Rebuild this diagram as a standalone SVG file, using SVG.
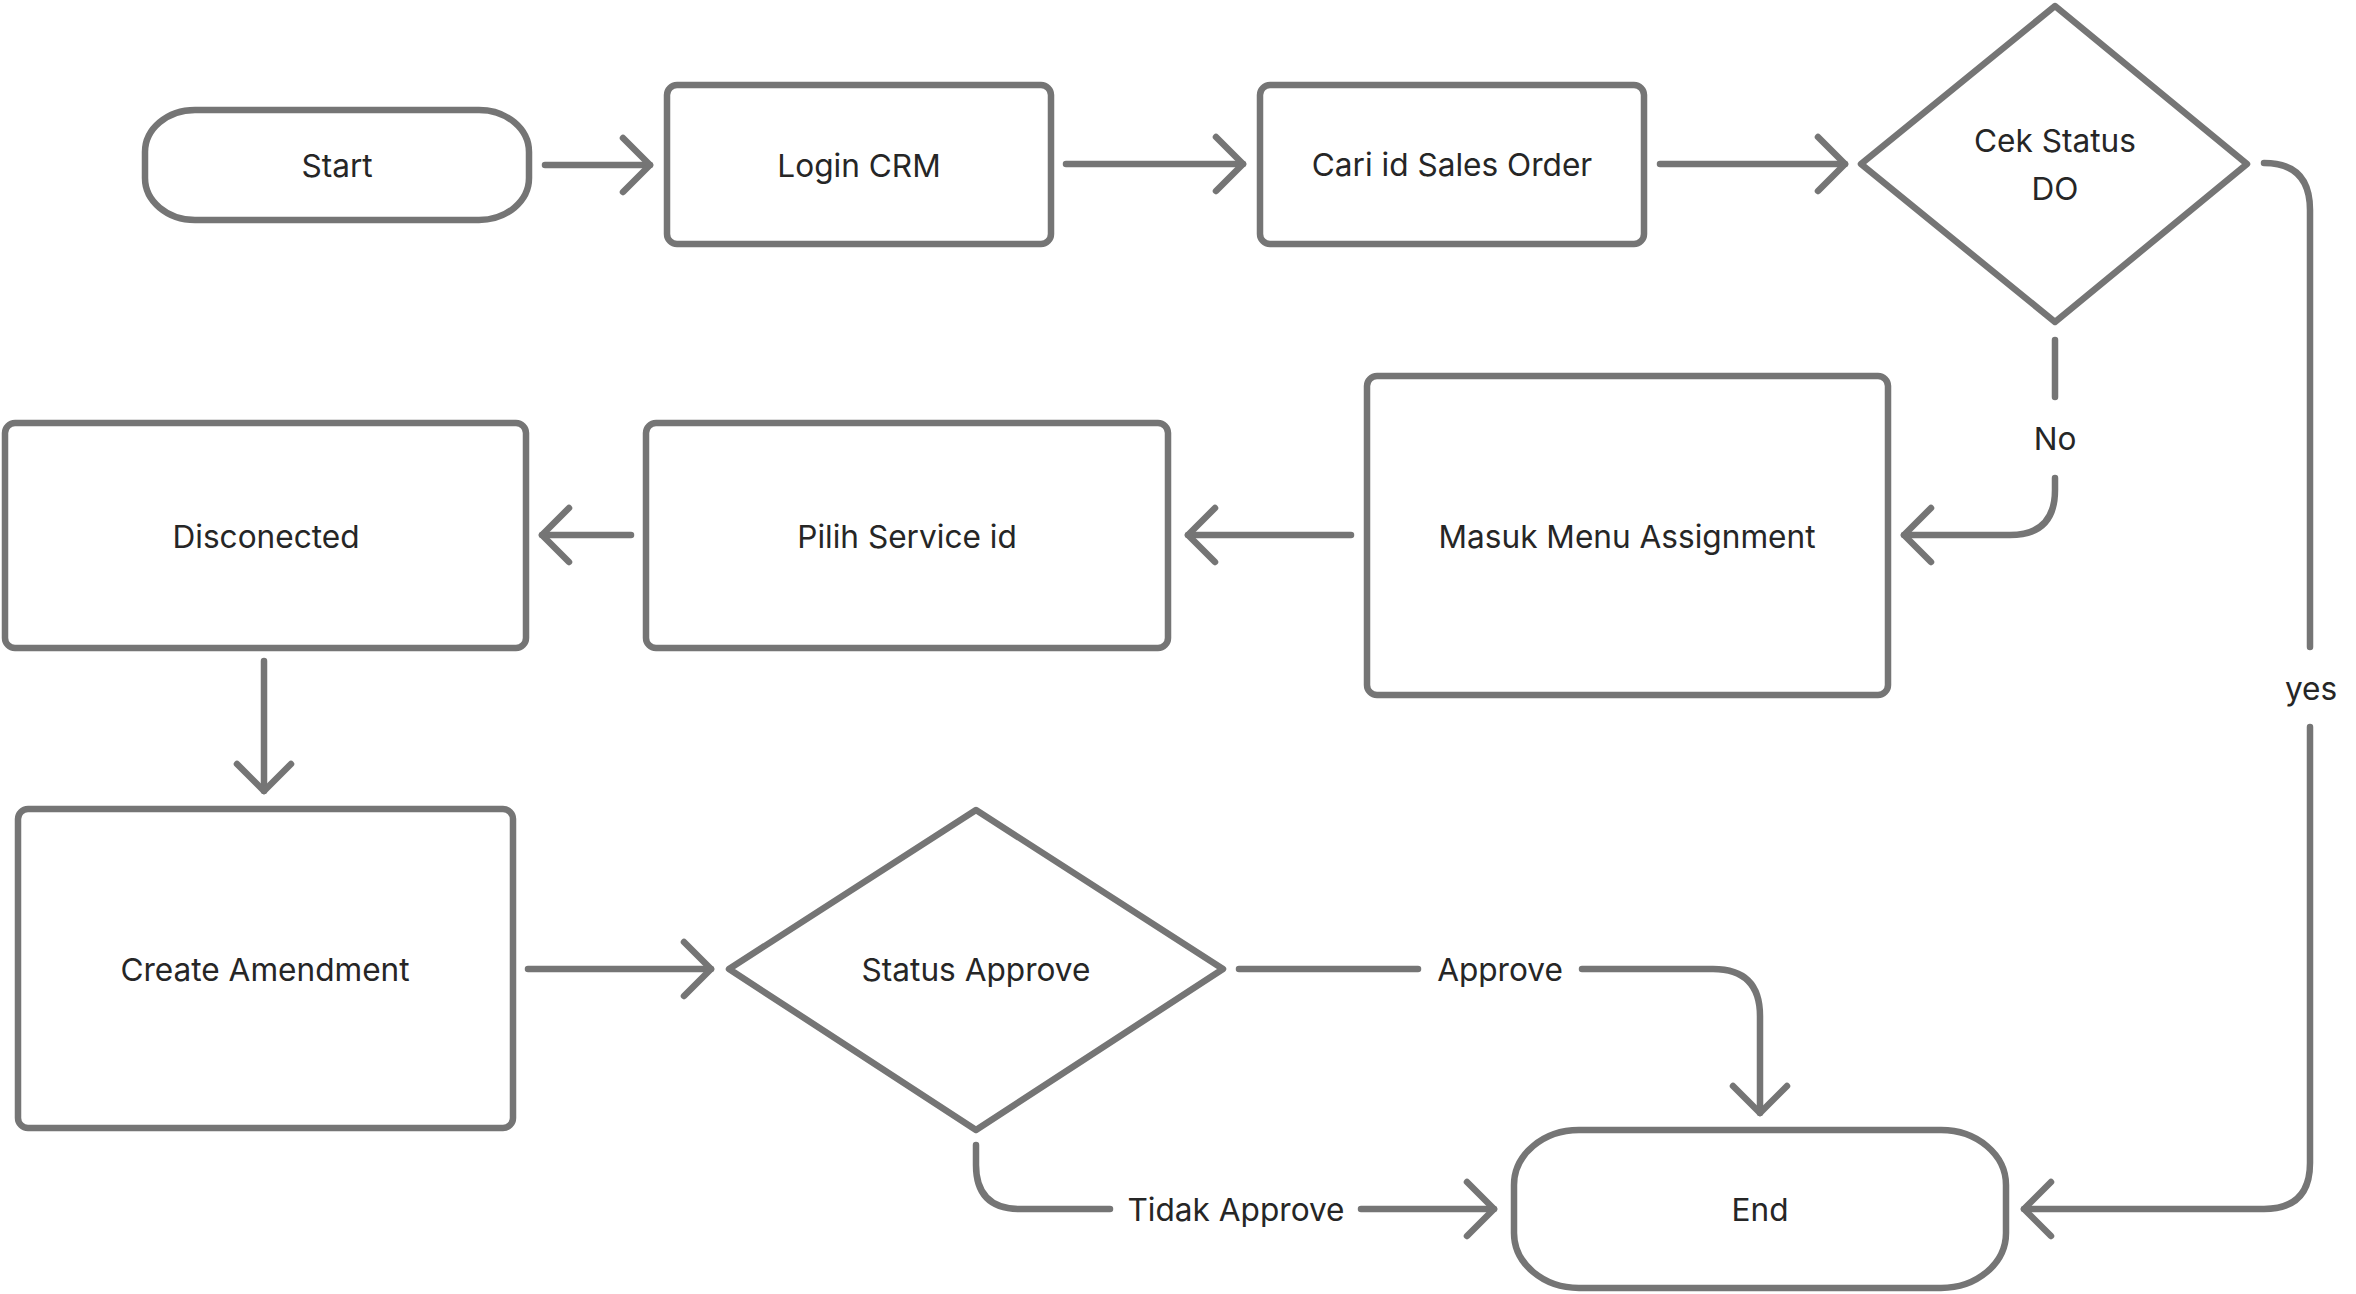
<svg xmlns="http://www.w3.org/2000/svg" width="2356" height="1294" viewBox="0 0 2356 1294">
<style>
.shape{fill:#ffffff;stroke:#757575;stroke-width:6.5;stroke-linejoin:round}
.conn{fill:none;stroke:#757575;stroke-width:6.5;stroke-linecap:round;stroke-linejoin:round}
.lbl{font-family:Inter,"Liberation Sans",sans-serif;font-size:31.6px;fill:#262626;text-anchor:middle;dominant-baseline:central}
</style>
<defs>
<marker id="arr" viewBox="-40 -40 80 80" refX="0" refY="0" markerWidth="80" markerHeight="80" markerUnits="userSpaceOnUse" orient="auto">
<path d="M-27,-27 L0,0 L-27,27" fill="none" stroke="#757575" stroke-width="6.5" stroke-linecap="round" stroke-linejoin="round"/>
</marker>
</defs>
<rect width="2356" height="1294" fill="#ffffff"/>
<g id="connectors">
<path class="conn" d="M545,165 L650,165" marker-end="url(#arr)"/>
<path class="conn" d="M1066,164 L1243,164" marker-end="url(#arr)"/>
<path class="conn" d="M1660,164 L1845,164" marker-end="url(#arr)"/>
<path class="conn" d="M2055,340 L2055,397"/>
<path class="conn" d="M2055,478 L2055,490 Q2055,535 2010,535 L1904,535" marker-end="url(#arr)"/>
<path class="conn" d="M2264,163 Q2310,163 2310,210 L2310,647"/>
<path class="conn" d="M2310,727 L2310,1163 Q2310,1209 2264,1209 L2024,1209" marker-end="url(#arr)"/>
<path class="conn" d="M1351,535 L1188,535" marker-end="url(#arr)"/>
<path class="conn" d="M631,535 L542,535" marker-end="url(#arr)"/>
<path class="conn" d="M264,661 L264,791" marker-end="url(#arr)"/>
<path class="conn" d="M528,969 L711,969" marker-end="url(#arr)"/>
<path class="conn" d="M1239,969 L1418,969"/>
<path class="conn" d="M1582,969 L1713,969 Q1760,969 1760,1016 L1760,1113" marker-end="url(#arr)"/>
<path class="conn" d="M976,1145 L976,1165 Q976,1209 1020,1209 L1110,1209"/>
<path class="conn" d="M1361,1209 L1494,1209" marker-end="url(#arr)"/>
<text class="lbl" x="2055" y="438">No</text>
<text class="lbl" x="2311" y="688">yes</text>
<text class="lbl" x="1500" y="969">Approve</text>
<text class="lbl" x="1236" y="1209">Tidak Approve</text>
</g>
<g id="start">
<rect class="shape" x="145" y="110" width="384" height="110" rx="50" ry="42"/>
<text class="lbl" x="337" y="165">Start</text>
</g>
<g id="login">
<rect class="shape" x="667" y="85" width="384" height="159" rx="10"/>
<text class="lbl" x="859" y="165">Login CRM</text>
</g>
<g id="cari">
<rect class="shape" x="1260" y="85" width="384" height="159" rx="10"/>
<text class="lbl" x="1452" y="164">Cari id Sales Order</text>
</g>
<g id="cek">
<polygon class="shape" points="2055,6 2247,164 2055,322 1861,164"/>
<text class="lbl" x="2055" y="140">Cek Status</text>
<text class="lbl" x="2055" y="188">DO</text>
</g>
<g id="masuk">
<rect class="shape" x="1367" y="376" width="521" height="319" rx="10"/>
<text class="lbl" x="1627" y="536">Masuk Menu Assignment</text>
</g>
<g id="pilih">
<rect class="shape" x="646" y="423" width="522" height="225" rx="10"/>
<text class="lbl" x="907" y="536">Pilih Service id</text>
</g>
<g id="disconected">
<rect class="shape" x="5" y="423" width="521" height="225" rx="10"/>
<text class="lbl" x="266" y="536">Disconected</text>
</g>
<g id="create">
<rect class="shape" x="18" y="809" width="495" height="319" rx="10"/>
<text class="lbl" x="265" y="969">Create Amendment</text>
</g>
<g id="status">
<polygon class="shape" points="976,810 1223,969 976,1130 729,969"/>
<text class="lbl" x="976" y="969">Status Approve</text>
</g>
<g id="end">
<rect class="shape" x="1514" y="1130" width="492" height="158" rx="65" ry="55"/>
<text class="lbl" x="1760" y="1209">End</text>
</g>
</svg>
